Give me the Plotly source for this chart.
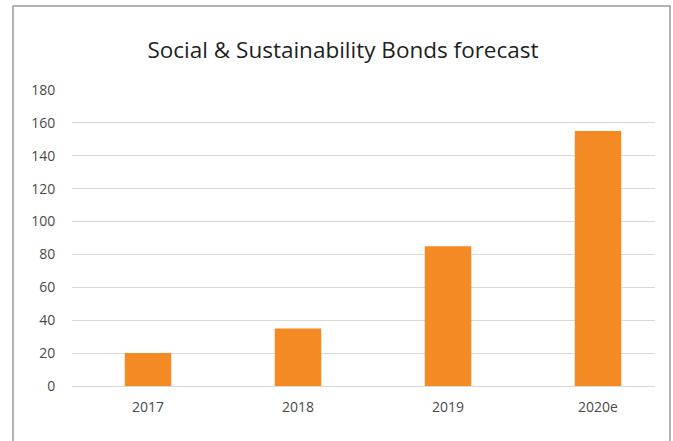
import plotly.graph_objects as go

categories = ["2017", "2018", "2019", "2020e"]
values = [20, 35, 85, 155]
y_ticks = [0, 20, 40, 60, 80, 100, 120, 140, 160, 180]

W, H = 673, 441
L, R, T, B = 72, 655, 90, 386  # plot area in pixels

fig = go.Figure(go.Bar(
    x=list(range(len(categories))), y=values,
    marker=dict(color="#F48A23", line=dict(width=0)),
    width=0.31,
))

def px_x(p):
    return (p - L) / (R - L)

def px_y(p):
    return (B - p) / (B - T)

fig.add_shape(type="rect", xref="paper", yref="paper",
              x0=px_x(13), x1=px_x(670), y0=px_y(448), y1=px_y(6),
              line=dict(color="#9a9a9a", width=1.5), fillcolor="rgba(0,0,0,0)",
              layer="below")

fig.update_layout(
    width=W, height=H,
    margin=dict(l=L, r=W - R, t=T, b=H - B, pad=0),
    paper_bgcolor="white", plot_bgcolor="white",
    showlegend=False,
    title=dict(text="Social & Sustainability Bonds forecast",
               x=(146 + 540) / 2 / W, xanchor="center",
               y=1 - 50 / H, yanchor="middle",
               font=dict(family="Open Sans", size=22.5, color="#1f1f1f")),
    font=dict(family="Open Sans", size=14, color="#4a4a4a"),
    xaxis=dict(
        range=[(L - 148) / 150, (R - 148) / 150],
        tickmode="array", tickvals=list(range(len(categories))), ticktext=categories,
        showgrid=False, zeroline=False, showline=False,
        ticks="outside", ticklen=8, tickcolor="rgba(0,0,0,0)",
        tickfont=dict(size=14, color="#4a4a4a"),
        fixedrange=True,
    ),
    yaxis=dict(
        range=[0, 180], tickmode="array", tickvals=y_ticks,
        showgrid=True, gridcolor="#d9d9d9", gridwidth=1,
        zeroline=True, zerolinecolor="#d9d9d9", zerolinewidth=1,
        showline=False,
        ticks="outside", ticklen=13, tickcolor="rgba(0,0,0,0)",
        tickfont=dict(size=14, color="#4a4a4a"),
        fixedrange=True,
    ),
)

fig.write_html("out.html", config={"displayModeBar": False},
               post_script="document.body.style.margin='0';document.body.style.overflow='hidden';")
